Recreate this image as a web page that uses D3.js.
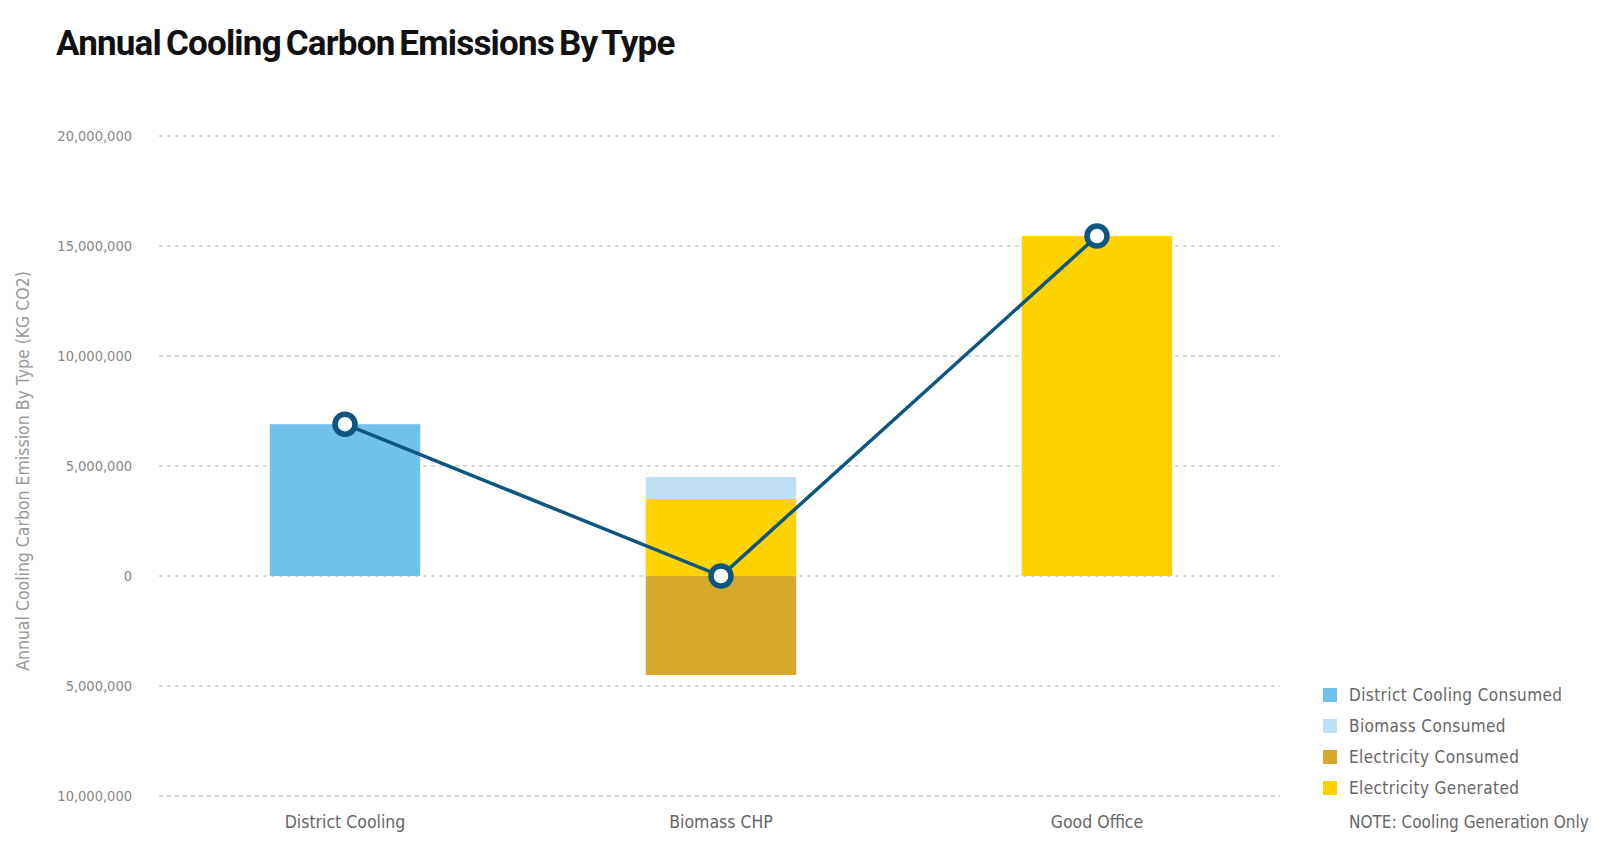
<!DOCTYPE html>
<html lang="en">
<head>
<meta charset="utf-8">
<script src="https://d3js.org/d3.v7.min.js"></script>
<title>Annual Cooling Carbon Emissions By Type</title>
<style>
  body { margin: 0; background: #fff; }
  text { font-family: "Liberation Sans Narrow", "DejaVu Sans Condensed", "Liberation Sans", sans-serif; }
</style>
</head>
<body>
<div id="chart"></div>
<script>
// data (kg CO2)
var categories = ["District Cooling", "Biomass CHP", "Good Office"];
var districtCoolingConsumed = [6900000, 0, 0];
var biomassConsumed = [0, 1000000, 0];
var electricityConsumed = [0, -4500000, 0];
var electricityGenerated = [0, 3500000, 15450000];
var netEmissions = [6900000, 0, 15450000];
var yTicks = [-10000000, -5000000, 0, 5000000, 10000000, 15000000, 20000000];

var seriesNames = ["District Cooling Consumed", "Biomass Consumed", "Electricity Consumed", "Electricity Generated"];
var seriesColors = {
    "District Cooling Consumed": "#70c2ec",
    "Biomass Consumed": "#bfdff3",
    "Electricity Consumed": "#d4a92c",
    "Electricity Generated": "#ffd200"
};
var seriesValues = {
    "District Cooling Consumed": districtCoolingConsumed,
    "Biomass Consumed": biomassConsumed,
    "Electricity Consumed": electricityConsumed,
    "Electricity Generated": electricityGenerated
};

var width = 1606, height = 841;
var svg = d3.select("#chart").append("svg")
    .attr("width", width)
    .attr("height", height);

// title
svg.append("text")
    .attr("x", 56)
    .attr("y", 55)
    .style("font-family", "Roboto, 'Liberation Sans', sans-serif")
    .style("font-weight", "bold")
    .style("font-size", "35px")
    .style("letter-spacing", "-0.8px")
    .style("word-spacing", "-3px")
    .attr("fill", "#111")
    .text("Annual Cooling Carbon Emissions By Type");

var x = d3.scaleBand()
    .domain(categories)
    .range([157, 1285])
    .paddingInner(0.6)
    .paddingOuter(0.3);

var y = d3.scaleLinear()
    .domain([-10000000, 20000000])
    .range([796, 136]);

// gridlines
svg.append("g")
    .selectAll("line")
    .data(yTicks)
    .join("line")
    .attr("x1", 159)
    .attr("x2", 1280)
    .attr("y1", function(d){ return y(d); })
    .attr("y2", function(d){ return y(d); })
    .attr("stroke", "#b8b8b8")
    .attr("stroke-width", 1)
    .attr("stroke-dasharray", "4,4");

// y axis labels (no axis line)
var yAxis = svg.append("g")
    .attr("transform", "translate(140,0)")
    .call(d3.axisLeft(y).tickValues(yTicks).tickSize(0).tickPadding(8)
        .tickFormat(function(d){ return d3.format(",")(Math.abs(d)); }));
yAxis.select(".domain").remove();
yAxis.selectAll("text")
    .style("font-family", "'Liberation Sans Narrow', 'DejaVu Sans Condensed', sans-serif")
    .style("font-size", "14.5px")
    .attr("fill", "#888");

svg.append("text")
    .attr("transform", "translate(29,471) rotate(-90)")
    .attr("text-anchor", "middle")
    .style("font-size", "17.5px")
    .attr("fill", "#999")
    .text("Annual Cooling Carbon  Emission By Type (KG CO2)");

// stacked bars
var table = categories.map(function(c, i) {
    var row = {category: c};
    seriesNames.forEach(function(s){ row[s] = seriesValues[s][i]; });
    return row;
});
var stackOrder = ["District Cooling Consumed", "Electricity Generated", "Biomass Consumed", "Electricity Consumed"];
var stacked = d3.stack().keys(stackOrder).offset(d3.stackOffsetDiverging)(table);

svg.append("g")
    .selectAll("g")
    .data(stacked)
    .join("g")
    .attr("fill", function(d){ return seriesColors[d.key]; })
    .selectAll("rect")
    .data(function(d){ return d; })
    .join("rect")
    .attr("x", function(d){ return x(d.data.category); })
    .attr("width", x.bandwidth())
    .attr("y", function(d){ return y(Math.max(d[0], d[1])); })
    .attr("height", function(d){ return Math.abs(y(d[0]) - y(d[1])); });

// net line
var lineColor = "#0d5680";
var line = d3.line()
    .x(function(d, i){ return x(categories[i]) + x.bandwidth() / 2; })
    .y(function(d){ return y(d); });

svg.append("path")
    .datum(netEmissions)
    .attr("d", line)
    .attr("fill", "none")
    .attr("stroke", lineColor)
    .attr("stroke-width", 3.5);

svg.append("g")
    .selectAll("circle")
    .data(netEmissions)
    .join("circle")
    .attr("cx", function(d, i){ return x(categories[i]) + x.bandwidth() / 2; })
    .attr("cy", function(d){ return y(d); })
    .attr("r", 10)
    .attr("fill", "#fff")
    .attr("stroke", lineColor)
    .attr("stroke-width", 5.5);

// x labels
svg.append("g")
    .selectAll("text")
    .data(categories)
    .join("text")
    .attr("x", function(d){ return x(d) + x.bandwidth() / 2; })
    .attr("y", 828)
    .attr("text-anchor", "middle")
    .style("font-size", "17.5px")
    .attr("fill", "#666")
    .text(function(d){ return d; });

// legend
var legend = svg.append("g")
    .selectAll("g")
    .data(seriesNames)
    .join("g")
    .attr("transform", function(d, i){ return "translate(1323," + (695 + i * 31) + ")"; });
legend.append("rect")
    .attr("x", 0)
    .attr("y", -7)
    .attr("width", 14)
    .attr("height", 14)
    .attr("fill", function(d){ return seriesColors[d]; });
legend.append("text")
    .attr("x", 26)
    .attr("y", 0)
    .attr("dy", "0.35em")
    .style("font-size", "17px")
    .style("letter-spacing", "0.4px")
    .attr("fill", "#666")
    .text(function(d){ return d; });

svg.append("text")
    .attr("x", 1349)
    .attr("y", 828)
    .style("font-size", "17px")
    .attr("fill", "#666")
    .text("NOTE: Cooling Generation Only");
</script>
</body>
</html>
